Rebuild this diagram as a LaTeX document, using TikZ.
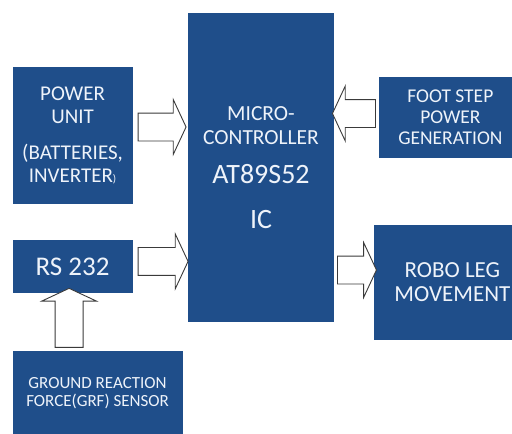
\documentclass[tikz,border=0pt]{standalone}
\usepackage{fontspec}
\setmainfont{Carlito}
\usepackage{tikz}
\usetikzlibrary{shapes.arrows, positioning, calc}
\definecolor{boxblue}{HTML}{1F4E8A}
\definecolor{boxtext}{HTML}{EEF3FA}
\definecolor{arrowline}{HTML}{3A3A3A}
\tikzset{
    unit/.style={rectangle, fill=boxblue, draw=none, text=boxtext, align=center, inner sep=0pt},
    bigarrow/.style={single arrow, draw=arrowline, fill=white, line width=0.9pt, minimum width=54pt, single arrow head extend=13.5pt, single arrow tip angle=130, inner xsep=0pt, inner ysep=13.5pt}
}

\begin{document}
\begin{tikzpicture}
    \useasboundingbox (0,0) rectangle (512pt,-434pt);
    \node [unit, minimum width=146pt, minimum height=309pt, font=\fontsize{21.5}{24}\selectfont] (mcu) at (261pt,-167.5pt)
        {MICRO-\\CONTROLLER\\[15pt]\fontsize{28}{24}\selectfont AT89S52\\[21pt]\fontsize{28}{24}\selectfont IC};
    \node [unit, minimum width=120pt, minimum height=137pt, below left=54pt and 55pt of mcu.north west, font=\fontsize{21}{22.5}\selectfont] (power)
        {POWER\\UNIT\\[14pt](BATTERIES,\\INVERTER{\fontsize{11}{11}\selectfont )}};
    \node [unit, minimum width=120pt, minimum height=53pt, below=36pt of power, font=\fontsize{27}{28}\selectfont] (rs)
        {RS 232};
    \node [unit, minimum width=170pt, minimum height=84pt, below right=57pt and 0pt of rs.south west, font=\fontsize{17}{18}\selectfont] (grf)
        {GROUND REACTION\\FORCE(GRF) SENSOR};
    \node [unit, minimum width=142pt, minimum height=81pt, below right=64pt and 45pt of mcu.north east, font=\fontsize{19.5}{21}\selectfont] (foot)
        {FOOT STEP\\POWER\\GENERATION};
    \node [unit, minimum width=156pt, minimum height=115pt, below right=212pt and 40pt of mcu.north east, font=\fontsize{23}{24}\selectfont] (robo)
        {ROBO LEG\\MOVEMENT};

    \node [bigarrow, minimum height=48pt] (powerarrow) at ($(power.east)+(26pt,8.5pt)$) {};
    \node [bigarrow, minimum height=50pt] (rsarrow) at ($(rs.east)+(27pt,5.5pt)$) {};
    \node [bigarrow, minimum height=43pt, rotate=180] (footarrow) at ($(foot.west)+(-22pt,4pt)$) {};
    \node [bigarrow, minimum height=39pt] (roboarrow) at ($(robo.west)+(-20.5pt,12.5pt)$) {};
    \node [bigarrow, minimum height=59pt, rotate=90] (grfarrow) at ($(grf.north)+(-28.5pt,29.5pt)$) {};
\end{tikzpicture}
\end{document}
